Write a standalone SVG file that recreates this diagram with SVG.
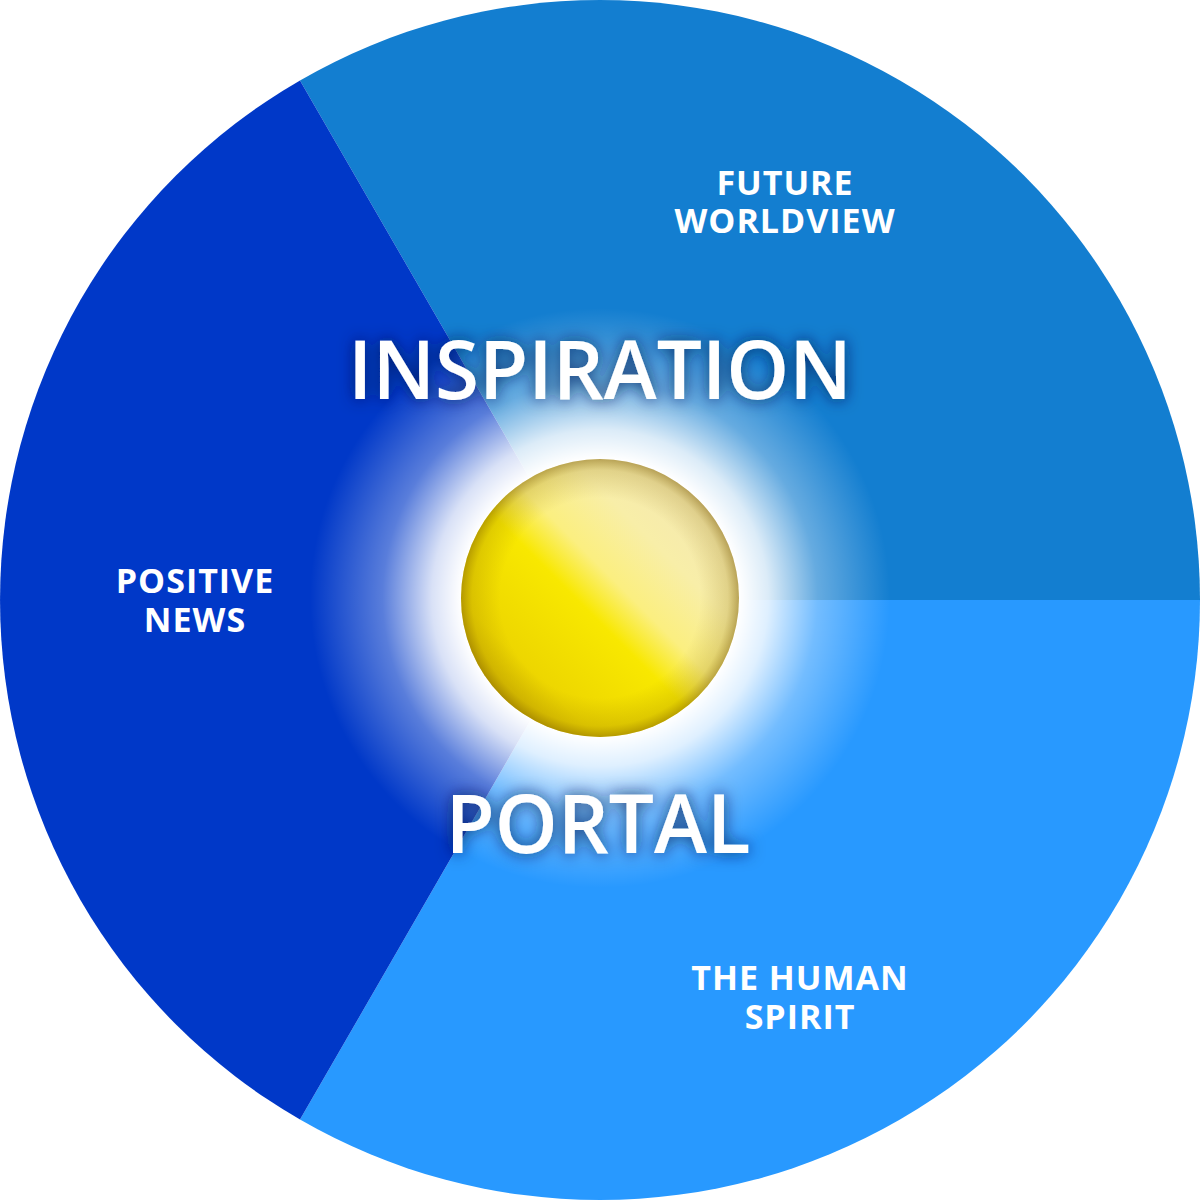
<svg xmlns="http://www.w3.org/2000/svg" width="1200" height="1200" viewBox="0 0 1200 1200">
<defs>
<radialGradient id="glow" cx="600" cy="598" r="290" gradientUnits="userSpaceOnUse">
<stop offset="0.48" stop-color="#ffffff" stop-opacity="1"/>
<stop offset="0.58" stop-color="#ffffff" stop-opacity="0.85"/>
<stop offset="0.75" stop-color="#ffffff" stop-opacity="0.35"/>
<stop offset="1" stop-color="#ffffff" stop-opacity="0"/>
</radialGradient>
<linearGradient id="sunBase" x1="740" y1="460" x2="460" y2="740" gradientUnits="userSpaceOnUse">
<stop offset="0" stop-color="#F0E2B8"/>
<stop offset="0.3" stop-color="#F8EEA8"/>
<stop offset="0.44" stop-color="#FBEF80"/>
<stop offset="0.54" stop-color="#F8E800"/>
<stop offset="0.75" stop-color="#EDD600"/>
<stop offset="1" stop-color="#C29E00"/>
</linearGradient>
<radialGradient id="sunRim" cx="600" cy="598" r="139" gradientUnits="userSpaceOnUse">
<stop offset="0.72" stop-color="#8a6a00" stop-opacity="0"/>
<stop offset="0.92" stop-color="#8a6a00" stop-opacity="0.2"/>
<stop offset="1" stop-color="#7a5a00" stop-opacity="0.5"/>
</radialGradient>
<filter id="shadow" x="-20%" y="-40%" width="140%" height="180%">
<feGaussianBlur in="SourceAlpha" stdDeviation="8" result="b"/>
<feFlood flood-color="#001a50" flood-opacity="0.85"/>
<feComposite in2="b" operator="in" result="s"/>
<feMerge><feMergeNode in="s"/><feMergeNode in="SourceGraphic"/></feMerge>
</filter>
<style>
.big{font-family:"Open Sans","Noto Sans",sans-serif;font-weight:600;font-size:82px;fill:#ffffff;text-anchor:middle;}
.lbl{font-family:"Open Sans","Noto Sans",sans-serif;font-weight:bold;font-size:34px;letter-spacing:1px;fill:#ffffff;text-anchor:middle;}
</style>
</defs>
<g id="segments">
<path id="seg-future" d="M600 600 L300 80.4 A600 600 0 0 1 1200 600 Z" fill="#137ED0"/>
<path id="seg-human" d="M600 600 L1200 600 A600 600 0 0 1 300 1119.6 Z" fill="#2899FF"/>
<path id="seg-news" d="M600 600 L300 1119.6 A600 600 0 0 1 300 80.4 Z" fill="#0038C8"/>
</g>
<g id="glow-layer">
<circle cx="600" cy="598" r="290" fill="url(#glow)"/>
</g>
<g id="sun">
<circle cx="600" cy="598" r="139" fill="url(#sunBase)"/>
<circle cx="600" cy="598" r="139" fill="url(#sunRim)"/>
</g>
<g id="titles" filter="url(#shadow)">
<text class="big" x="600" y="399" textLength="504" lengthAdjust="spacingAndGlyphs">INSPIRATION</text>
<text class="big" x="598" y="853" textLength="305" lengthAdjust="spacingAndGlyphs">PORTAL</text>
</g>
<g id="labels">
<g id="label-future"><text class="lbl" x="785" y="195">FUTURE</text><text class="lbl" x="785" y="233">WORLDVIEW</text></g>
<g id="label-news"><text class="lbl" x="195" y="593">POSITIVE</text><text class="lbl" x="195" y="632">NEWS</text></g>
<g id="label-human"><text class="lbl" x="800" y="990">THE HUMAN</text><text class="lbl" x="800" y="1029">SPIRIT</text></g>
</g>
</svg>
